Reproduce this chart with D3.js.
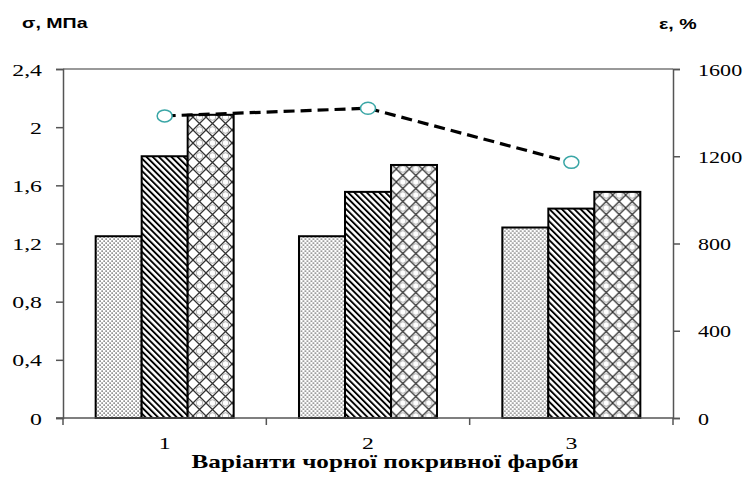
<!DOCTYPE html>
<html><head><meta charset="utf-8">
<script src="https://cdn.jsdelivr.net/npm/d3@7"></script>
<style>body{margin:0;background:#fff}svg{display:block}</style>
</head><body>
<script>
const categories = ["1", "2", "3"];
const seriesKeys = ["a", "b", "c"];
const stressA = [1.25, 1.25, 1.31];
const stressB = [1.80, 1.555, 1.44];
const stressC = [2.085, 1.74, 1.555];
const elongation = [1385, 1420, 1172];
const leftTicks = [0, 0.4, 0.8, 1.2, 1.6, 2.0, 2.4];
const rightTicks = [0, 400, 800, 1200, 1600];
const leftTitle = "σ, МПа";
const rightTitle = "ε, %";
const xTitle = "Варіанти чорної покривної фарби";

const W = 743, H = 480;
const m = {l: 63, r: 70, t: 69, b: 62};
const SX = 1.4;
const SERIF = "'Liberation Serif', 'Times New Roman', 'DejaVu Serif', serif";
const SANS = "'Liberation Sans', Arial, sans-serif";
const svg = d3.select("body").append("svg").attr("width", W).attr("height", H);
const defs = svg.append("defs");

// dotted pattern
const pDot = defs.append("pattern").attr("id", "pDot").attr("patternUnits", "userSpaceOnUse")
  .attr("width", 4).attr("height", 4);
pDot.append("rect").attr("width", 4).attr("height", 4).attr("fill", "#fff");
pDot.append("rect").attr("x", 0.5).attr("y", 0.5).attr("width", 1.2).attr("height", 1.2).attr("fill", "#222");
pDot.append("rect").attr("x", 2.5).attr("y", 2.5).attr("width", 1.2).attr("height", 1.2).attr("fill", "#222");
// diagonal hatch "\"
const pHat = defs.append("pattern").attr("id", "pHat").attr("patternUnits", "userSpaceOnUse")
  .attr("width", 4.4).attr("height", 10).attr("patternTransform", "rotate(-45)");
pHat.append("rect").attr("width", 4.4).attr("height", 10).attr("fill", "#fff");
pHat.append("rect").attr("x", 0).attr("y", 0).attr("width", 1.9).attr("height", 10).attr("fill", "#000");
// crosshatch lattice
const cs = 13;
const pCr = defs.append("pattern").attr("id", "pCr").attr("patternUnits", "userSpaceOnUse")
  .attr("width", cs).attr("height", cs);
pCr.append("rect").attr("width", cs).attr("height", cs).attr("fill", "#fff");
pCr.append("path").attr("d", `M0,0L${cs},${cs}M${cs},0L0,${cs}`).attr("stroke", "#333").attr("stroke-width", 1.3);
pCr.append("circle").attr("cx", cs/2).attr("cy", 0).attr("r", 3.3).attr("fill", "none").attr("stroke", "#999").attr("stroke-width", 0.8);
pCr.append("circle").attr("cx", cs/2).attr("cy", cs).attr("r", 3.3).attr("fill", "none").attr("stroke", "#999").attr("stroke-width", 0.8);
const fills = {a: "url(#pDot)", b: "url(#pHat)", c: "url(#pCr)"};

const x = d3.scaleBand().domain(categories).range([m.l, W - m.r]).paddingInner(0).paddingOuter(0);
const xs = d3.scaleBand().domain(seriesKeys).range([0, x.bandwidth()]).paddingInner(0).paddingOuter(0.71);
const y = d3.scaleLinear().domain([0, 2.4]).range([H - m.b, m.t]);
const y2 = d3.scaleLinear().domain([0, 1600]).range([H - m.b, m.t]);

const rows = categories.map((c, i) => ({cat: c, vals: [
  {k: "a", v: stressA[i]}, {k: "b", v: stressB[i]}, {k: "c", v: stressC[i]}]}));

// frame top
svg.append("line").attr("x1", m.l).attr("x2", W - m.r).attr("y1", m.t).attr("y2", m.t)
  .attr("stroke", "#777").attr("stroke-width", 1.5);

// bars
const g = svg.append("g");
g.selectAll("g.cat").data(rows).join("g").attr("class", "cat")
  .attr("transform", d => `translate(${x(d.cat)},0)`)
  .selectAll("rect").data(d => d.vals).join("rect")
  .attr("x", d => xs(d.k)).attr("width", xs.bandwidth())
  .attr("y", d => y(d.v)).attr("height", d => y(0) - y(d.v))
  .attr("fill", d => fills[d.k]).attr("stroke", "#000").attr("stroke-width", 2);

function stretchTicks(sel, sx) {
  sel.selectAll("text").style("font-family", SERIF).attr("font-size", 17).attr("fill", "#000")
    .attr("dy", "0.36em").each(function() {
      const t = d3.select(this);
      t.attr("transform", `translate(${t.attr("x")},0) scale(${sx},1)`).attr("x", 0);
    });
  sel.selectAll("path,line").attr("stroke", "#555").attr("stroke-width", 1.5);
}

// left axis
const ax = svg.append("g").attr("transform", `translate(${m.l},0)`)
  .call(d3.axisLeft(y).tickValues(leftTicks).tickSize(7).tickPadding(14)
    .tickFormat(d => String(+d.toFixed(1)).replace(".", ",")));
stretchTicks(ax, SX);

// right axis
const ar = svg.append("g").attr("transform", `translate(${W - m.r},0)`)
  .call(d3.axisRight(y2).tickValues(rightTicks).tickSize(7).tickPadding(18).tickFormat(d3.format("d")));
stretchTicks(ar, 1.3);

// bottom axis
const xb = svg.append("g").attr("transform", `translate(0,${H - m.b})`);
xb.append("line").attr("x1", m.l - 7).attr("x2", W - m.r).attr("stroke", "#555").attr("stroke-width", 1.5);
const bounds = categories.map(c => x(c)).concat([x(categories[categories.length - 1]) + x.bandwidth()]);
xb.selectAll("line.tk").data(bounds).join("line").attr("class", "tk")
  .attr("x1", d => d).attr("x2", d => d).attr("y1", 0).attr("y2", 7)
  .attr("stroke", "#555").attr("stroke-width", 1.5);
xb.selectAll("text").data(categories).join("text")
  .attr("transform", d => `translate(${x(d) + x.bandwidth()/2},31) scale(${SX},1)`)
  .attr("text-anchor", "middle").style("font-family", SERIF).attr("font-size", 17)
  .text(d => d);

// line series
const pts = categories.map((c, i) => [x(c) + x.bandwidth()/2, y2(elongation[i])]);
svg.append("path").attr("d", d3.line()(pts)).attr("fill", "none").attr("stroke", "#000")
  .attr("stroke-width", 3.2).attr("stroke-dasharray", "11,6");
svg.selectAll("ellipse.mk").data(pts).join("ellipse").attr("class", "mk")
  .attr("cx", d => d[0]).attr("cy", d => d[1]).attr("rx", 7.5).attr("ry", 6)
  .attr("fill", "#fff").attr("stroke", "#3aa6a6").attr("stroke-width", 1.5);

// titles
svg.append("text").attr("transform", `translate(22,28) scale(${SX},1)`)
  .style("font-family", SANS).attr("font-weight", "bold").attr("font-size", 14)
  .text(leftTitle);
svg.append("text").attr("transform", `translate(659,29) scale(${SX},1)`)
  .style("font-family", SANS).attr("font-weight", "bold").attr("font-size", 14)
  .text(rightTitle);
svg.append("text").attr("transform", `translate(${(m.l + W - m.r)/2 + 17},468) scale(${SX},1)`)
  .attr("text-anchor", "middle").style("font-family", SERIF).attr("font-weight", "bold")
  .attr("font-size", 18).text(xTitle);
</script>
</body></html>
